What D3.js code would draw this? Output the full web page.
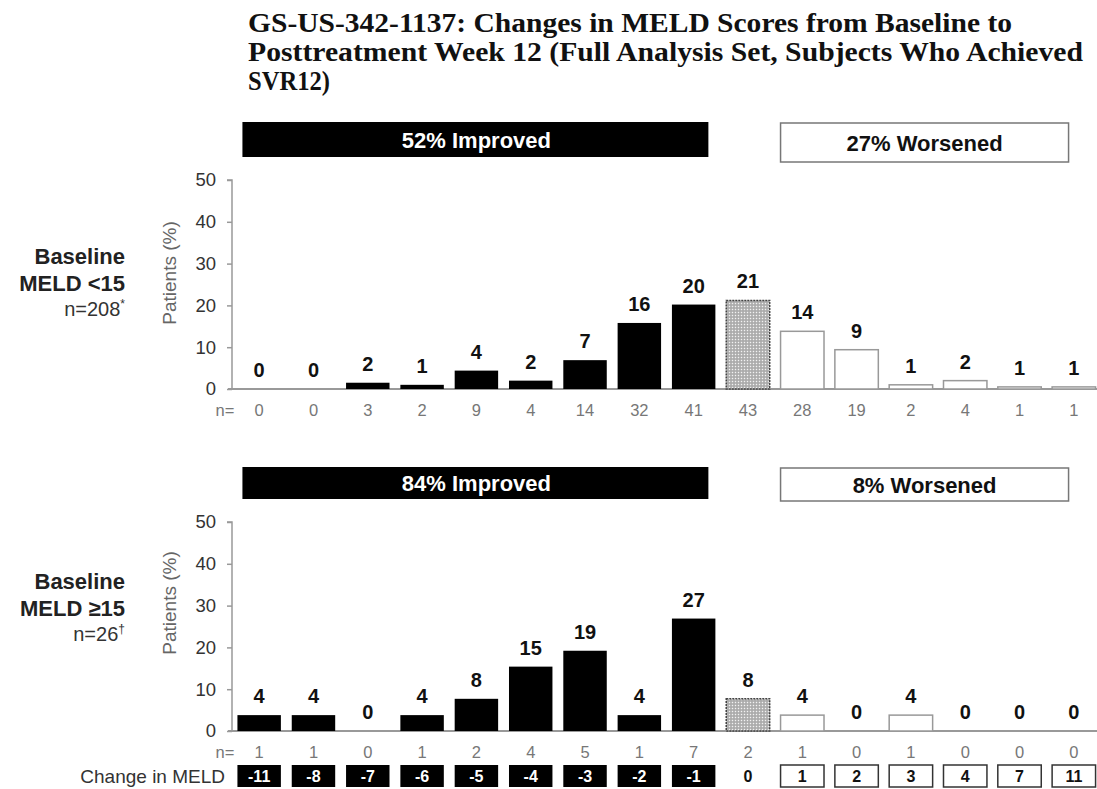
<!DOCTYPE html>
<html><head><meta charset="utf-8">
<script src="https://cdn.jsdelivr.net/npm/d3@7"></script>
<style>
html,body{margin:0;padding:0;background:#fff;}
svg{display:block;}
</style>
</head><body>
<svg id="chart" width="1097" height="789"></svg>
<script>
// ---------- data ----------
const categories = ["-11","-8","-7","-6","-5","-4","-3","-2","-1","0","1","2","3","4","7","11"];
const topValues = [0, 0, 1.5, 1.0, 4.4, 2.0, 6.9, 15.8, 20.2, 21.2, 13.8, 9.4, 1.0, 2.0, 0.5, 0.5];
const topLabels = [0, 0, 2, 1, 4, 2, 7, 16, 20, 21, 14, 9, 1, 2, 1, 1];
const topN      = [0, 0, 3, 2, 9, 4, 14, 32, 41, 43, 28, 19, 2, 4, 1, 1];
const bottomValues = [3.8, 3.8, 0, 3.8, 7.7, 15.4, 19.2, 3.8, 26.9, 7.7, 3.8, 0, 3.8, 0, 0, 0];
const bottomLabels = [4, 4, 0, 4, 8, 15, 19, 4, 27, 8, 4, 0, 4, 0, 0, 0];
const bottomN      = [1, 1, 0, 1, 2, 4, 5, 1, 7, 2, 1, 0, 1, 0, 0, 0];
const yTicks = [0, 10, 20, 30, 40, 50];
const titleLines = [
  "GS-US-342-1137: Changes in MELD Scores from Baseline to",
  "Posttreatment Week 12 (Full Analysis Set, Subjects Who Achieved",
  "SVR12)"
];
const titleWidths = [764, 835, 82];
const panels = [
  {values: topValues, labels: topLabels, n: topN, improved: "52% Improved", worsened: "27% Worsened",
   group: ["Baseline", "MELD <15", "n=208", "*"]},
  {values: bottomValues, labels: bottomLabels, n: bottomN, improved: "84% Improved", worsened: "8% Worsened",
   group: ["Baseline", "MELD \u226515", "n=26", "\u2020"]}
];

// ---------- layout ----------
const svg = d3.select("#chart");
const sans = "'Liberation Sans', Arial, sans-serif";
const x = d3.scaleBand().domain(categories).range([232, 1101]).paddingInner(0.2).paddingOuter(0.1);
const bw = x.bandwidth();

const layouts = [
  {y0: 389, y1: 180, bannerTop: 122, bannerH: 35, wTop: 123, wH: 39, groupY: [264, 291, 316], titleY: 273},
  {y0: 731, y1: 522, bannerTop: 467, bannerH: 32, wTop: 468, wH: 33, groupY: [589, 616, 641], titleY: 603}
];

// pattern for unchanged bar
const defs = svg.append("defs");
const pat = defs.append("pattern").attr("id", "stip").attr("width", 3).attr("height", 3)
  .attr("patternUnits", "userSpaceOnUse");
pat.append("rect").attr("width", 3).attr("height", 3).attr("fill", "#b8b8b8");
pat.append("rect").attr("width", 1).attr("height", 1).attr("fill", "#f2f2f2");
pat.append("rect").attr("x", 1.5).attr("y", 1.5).attr("width", 1).attr("height", 1).attr("fill", "#8a8a8a");

// title
svg.append("g").selectAll("text").data(titleLines).join("text")
  .attr("x", 248).attr("y", (d, i) => 32 + i * 29)
  .attr("font-family", "'Liberation Serif', 'Times New Roman', serif")
  .attr("font-weight", "bold").attr("font-size", 27).attr("fill", "#111")
  .attr("textLength", (d, i) => titleWidths[i]).attr("lengthAdjust", "spacingAndGlyphs")
  .text(d => d);

const kind = c => (+c < 0 ? "imp" : (+c === 0 ? "same" : "worse"));

panels.forEach((p, pi) => {
  const L = layouts[pi];
  const y = d3.scaleLinear().domain([0, 50]).range([L.y0, L.y1]);
  const g = svg.append("g");

  // banners
  g.append("rect").attr("x", x(categories[0]) + 5).attr("y", L.bannerTop)
    .attr("width", x(categories[8]) + bw - 7 - (x(categories[0]) + 5)).attr("height", L.bannerH)
    .attr("fill", "#000");
  g.append("text").attr("x", (x(categories[0]) + x(categories[8]) + bw) / 2)
    .attr("y", L.bannerTop + L.bannerH / 2 + 8).attr("text-anchor", "middle")
    .attr("font-family", sans).attr("font-weight", "bold").attr("font-size", 22).attr("fill", "#fff")
    .text(p.improved);
  const wx0 = x(categories[10]), wx1 = x(categories[15]) + bw - 27;
  g.append("rect").attr("x", wx0).attr("y", L.wTop).attr("width", wx1 - wx0).attr("height", L.wH)
    .attr("fill", "#fff").attr("stroke", "#777").attr("stroke-width", 1.5);
  g.append("text").attr("x", (wx0 + wx1) / 2).attr("y", L.wTop + L.wH / 2 + 8).attr("text-anchor", "middle")
    .attr("font-family", sans).attr("font-weight", "bold").attr("font-size", 22).attr("fill", "#111")
    .text(p.worsened);

  // y axis
  const ax = g.append("g").attr("transform", "translate(232,0)")
    .call(d3.axisLeft(y).tickValues(yTicks).tickSize(5).tickPadding(11));
  ax.select(".domain").attr("stroke", "#999").attr("stroke-width", 1.5).attr("d", `M-5,${y(50)}H0V${y(0)}`);
  ax.selectAll(".tick line").attr("stroke", "#999").attr("stroke-width", 1.5);
  ax.selectAll(".tick text").attr("font-family", sans).attr("font-size", 18.5).attr("fill", "#333");

  // x baseline
  g.append("line").attr("x1", 228).attr("x2", 1097).attr("y1", y(0)).attr("y2", y(0))
    .attr("stroke", "#999").attr("stroke-width", 2);

  // y title
  g.append("text").attr("transform", `translate(176,${L.titleY}) rotate(-90)`)
    .attr("text-anchor", "middle").attr("font-family", sans).attr("font-size", 19).attr("fill", "#666")
    .text("Patients (%)");

  // group label
  const gl = g.append("g").attr("font-family", sans).attr("text-anchor", "end");
  gl.append("text").attr("x", 125).attr("y", L.groupY[0]).attr("font-weight", "bold").attr("font-size", 22)
    .attr("fill", "#222").text(p.group[0]);
  gl.append("text").attr("x", 125).attr("y", L.groupY[1]).attr("font-weight", "bold").attr("font-size", 22)
    .attr("fill", "#222").text(p.group[1]);
  const nt = gl.append("text").attr("x", 125).attr("y", L.groupY[2]).attr("font-size", 20).attr("fill", "#333");
  nt.append("tspan").text(p.group[2]);
  nt.append("tspan").attr("font-size", 12).attr("dy", -8).text(p.group[3]);

  // bars
  g.append("g").selectAll("rect").data(categories).join("rect")
    .attr("x", c => x(c)).attr("width", bw)
    .attr("y", (c, i) => y(p.values[i]))
    .attr("height", (c, i) => y(0) - y(p.values[i]))
    .attr("fill", c => kind(c) === "imp" ? "#000" : kind(c) === "same" ? "url(#stip)" : "#fff")
    .attr("stroke", c => kind(c) === "imp" ? "#000" : kind(c) === "same" ? "#444" : "#999")
    .attr("stroke-width", c => kind(c) === "imp" ? 0 : 1.5)
    .attr("stroke-dasharray", c => kind(c) === "same" ? "2,1" : null)
    .style("display", (c, i) => p.values[i] > 0 ? null : "none");

  // value labels
  g.append("g").selectAll("text").data(categories).join("text")
    .attr("x", c => x(c) + bw / 2).attr("y", (c, i) => y(p.values[i]) - 12)
    .attr("text-anchor", "middle").attr("font-family", sans).attr("font-weight", "bold")
    .attr("font-size", 20).attr("fill", "#111")
    .text((c, i) => p.labels[i]);

  // n row
  g.append("text").attr("x", 225).attr("y", y(0) + 27).attr("text-anchor", "middle")
    .attr("font-family", sans).attr("font-size", 16.5).attr("fill", "#777").text("n=");
  g.append("g").selectAll("text").data(categories).join("text")
    .attr("x", c => x(c) + bw / 2).attr("y", y(0) + 27).attr("text-anchor", "middle")
    .attr("font-family", sans).attr("font-size", 16.5).attr("fill", "#777")
    .text((c, i) => p.n[i]);
});

// change in MELD row
const row = svg.append("g");
row.append("text").attr("x", 225).attr("y", 783).attr("text-anchor", "end")
  .attr("font-family", sans).attr("font-size", 19).attr("fill", "#333").text("Change in MELD");
row.selectAll("rect").data(categories.filter(c => kind(c) !== "same")).join("rect")
  .attr("x", c => x(c)).attr("y", 765).attr("width", bw).attr("height", 22)
  .attr("fill", c => kind(c) === "imp" ? "#000" : "#fff")
  .attr("stroke", c => kind(c) === "imp" ? "none" : "#333").attr("stroke-width", 1.5);
row.selectAll("text.cat").data(categories).join("text").attr("class", "cat")
  .attr("x", c => x(c) + bw / 2).attr("y", 782).attr("text-anchor", "middle")
  .attr("font-family", sans).attr("font-weight", "bold").attr("font-size", 16)
  .attr("fill", c => kind(c) === "imp" ? "#fff" : "#111")
  .text(c => c);
</script>
</body></html>
